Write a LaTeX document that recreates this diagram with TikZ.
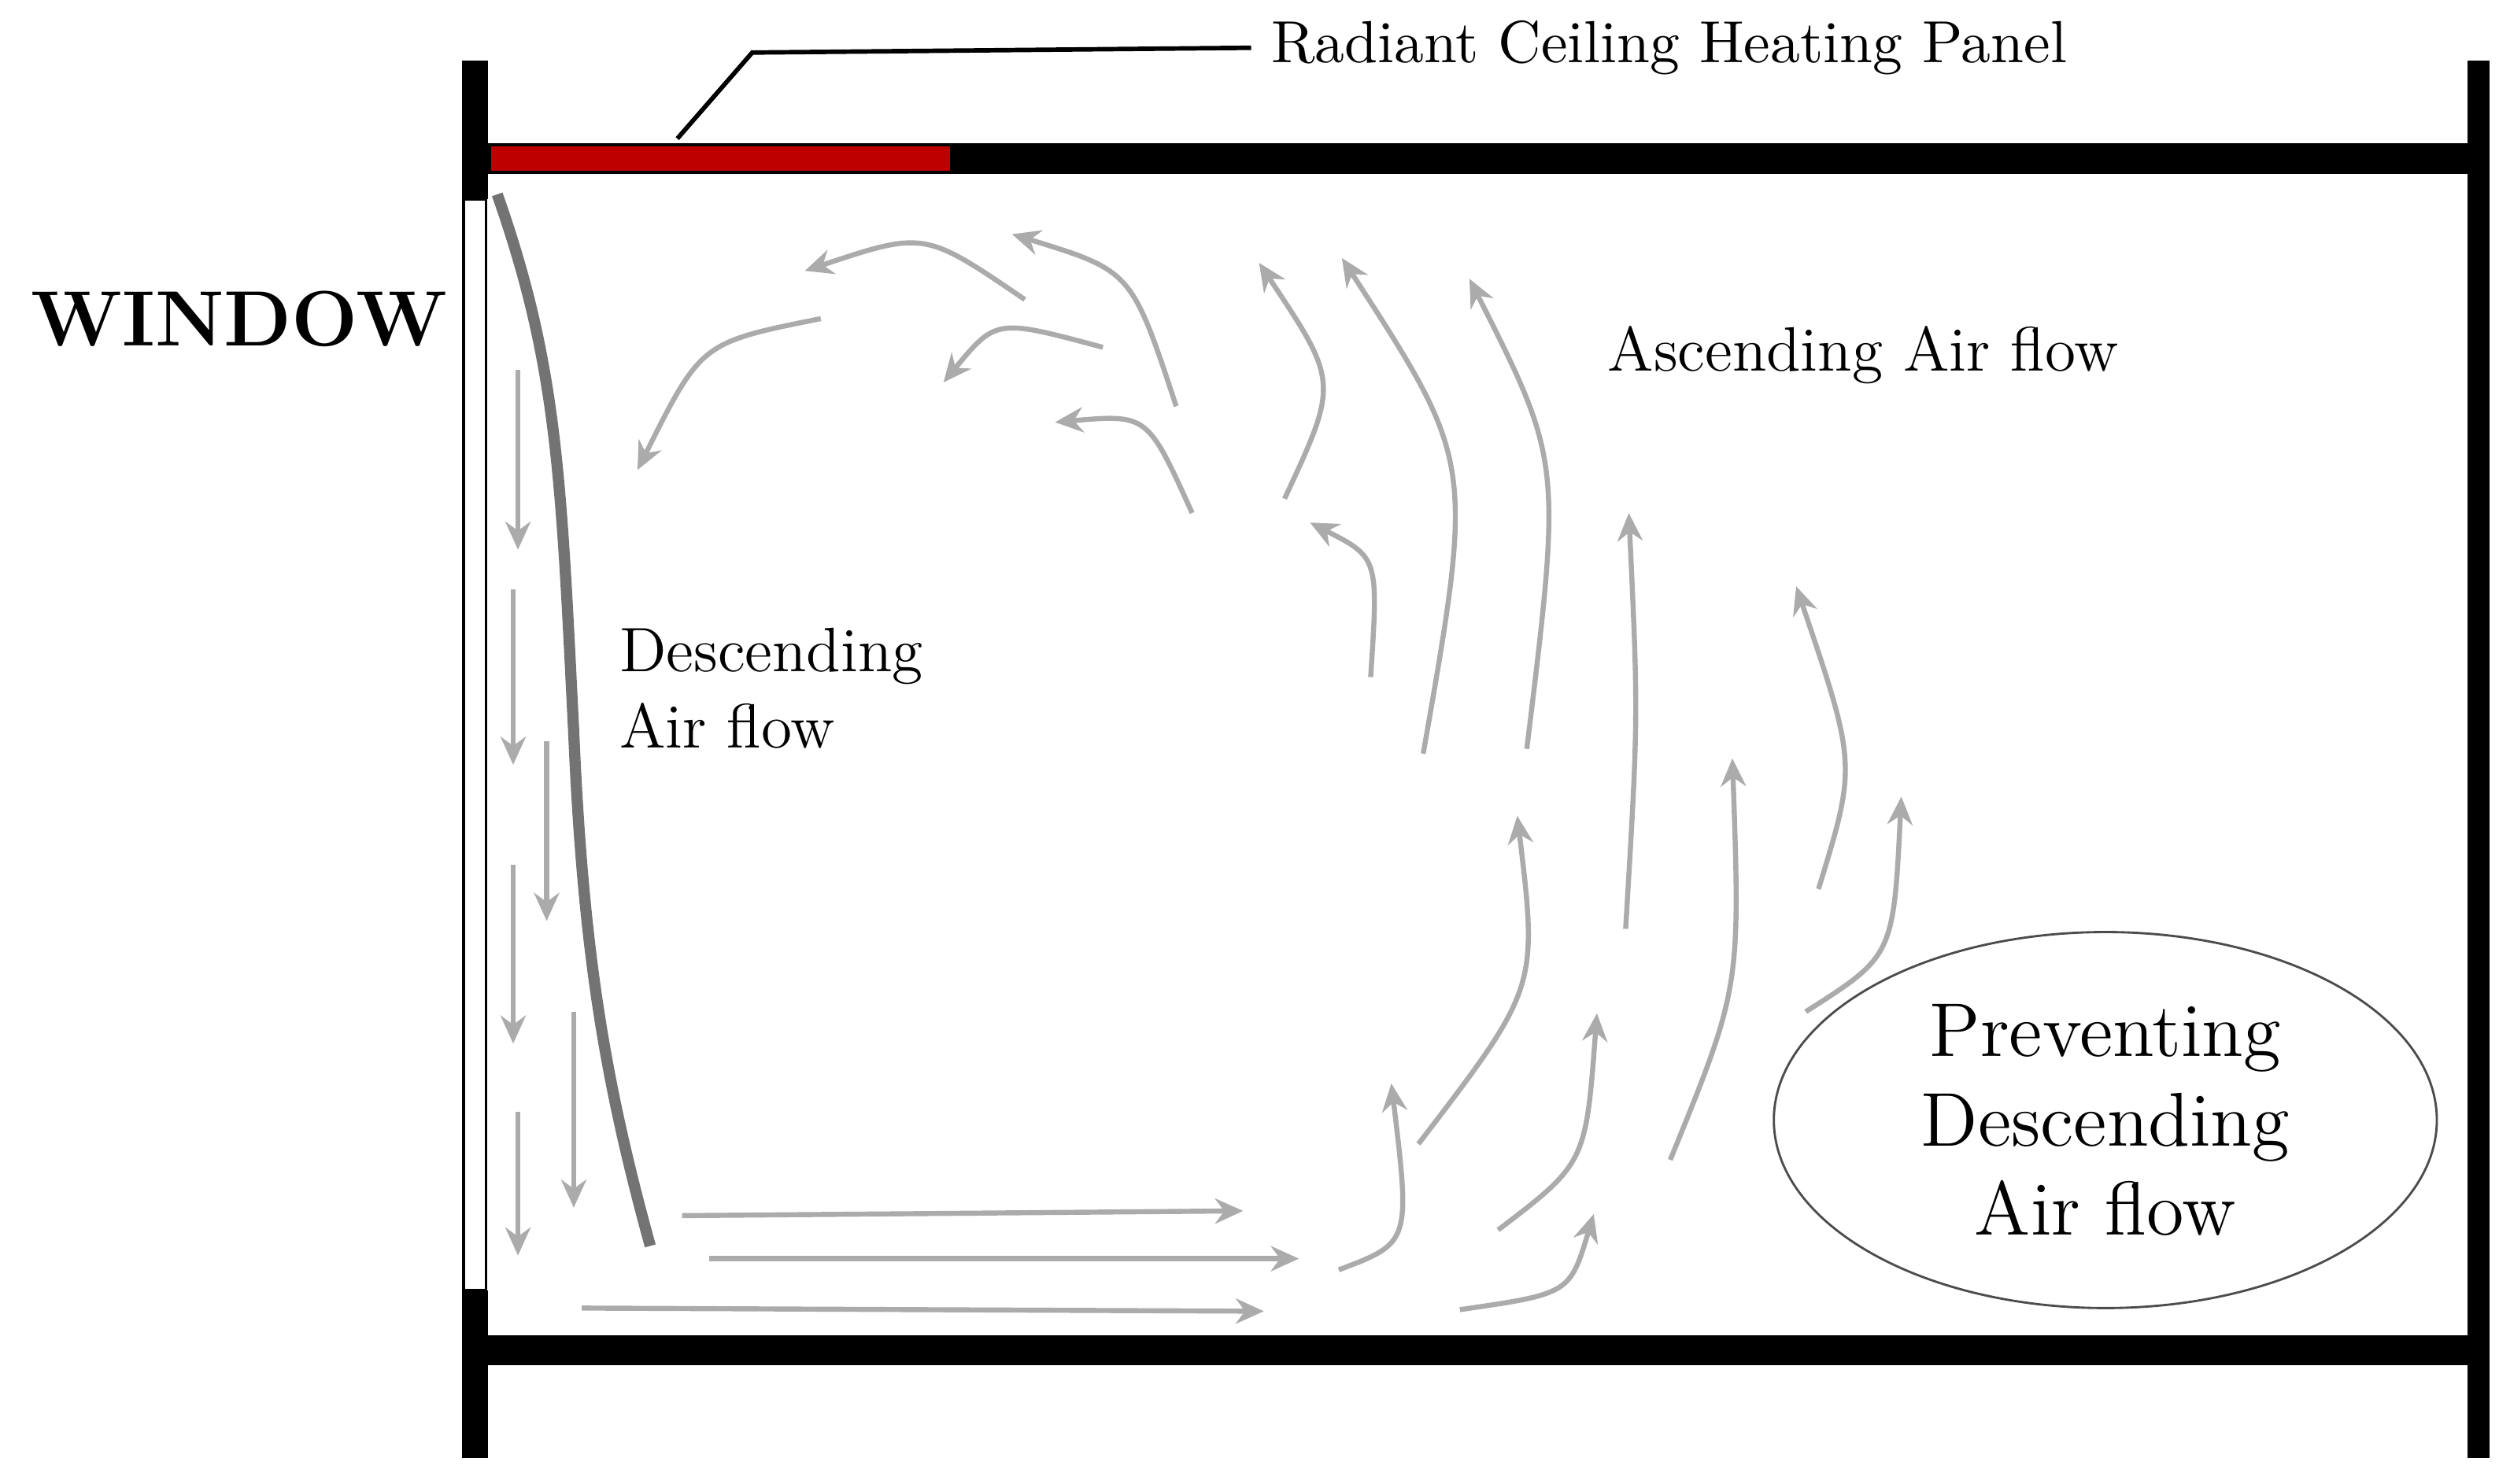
\documentclass[tikz,border=0pt]{standalone}
\usetikzlibrary{arrows.meta}
\begin{document}
\begin{tikzpicture}[x=0.01cm,y=-0.01cm,
  wall/.style={fill=black,draw=none},
  flow/.style={draw=black!33,line width=0.9pt,-{Stealth[length=5pt,width=4.5pt]}},
  lbl/.style={font=\fontsize{11.2pt}{13.5pt}\selectfont,inner sep=0pt}]
\useasboundingbox (0,0) rectangle (1568,931);
% walls
\fill[wall] (290,38) rectangle (306,125);
\fill[wall] (290,810) rectangle (306,915);
\draw[line width=0.5pt,fill=white] (291,125) rectangle (305,810);
\fill[wall] (1548,38) rectangle (1562,915);
\fill[wall] (298,90) rectangle (1555,109);
\fill[wall] (298,838) rectangle (1555,857);
\fill[red!75!black] (308,92) rectangle (596,107);
% label
\coordinate (p1) at (425,87);
\coordinate (p2) at (472,33);
\node[anchor=west,font=\fontsize{10.6pt}{12pt}\selectfont,inner sep=0pt] (rc) at (797,30) {Radiant Ceiling Heating Panel};
\draw[line width=0.8pt] (p1) -- (p2) -- ([xshift=-0.12cm]rc.west);
\node[font=\bfseries\fontsize{14pt}{17pt}\selectfont,inner sep=0pt] (win) at (150,200) {WINDOW};
% descending dark curve
\draw[black!55,line width=2pt] (312,122) .. controls (350,230) and (352,300) .. (360,460) .. controls (366,600) and (380,680) .. (408,782);
% small descending arrows
\foreach \x/\a/\b in {325/232/345, 322/370/480, 343/465/578, 322/543/655, 360/635/758, 325/698/788}
  \draw[flow] (\x,\a) -- (\x,\b);
% horizontal
\draw[flow] (428,763) -- (780,760);
\draw[flow] (445,790) -- (815,790);
\draw[flow] (365,821) -- (793,823);
% texts
\node[lbl,anchor=west,align=left] (desc) at (388,432) {Descending\\Air flow};
\node[lbl,anchor=west] (asc) at (1008,223) {Ascending Air flow};
\draw[line width=0.4pt,black!70] (1321,703) ellipse [x radius=208, y radius=118];
\node[font=\fontsize{13.6pt}{16pt}\selectfont,align=center,inner sep=0pt] (prev) at (1321,703) {Preventing\\Descending\\Air flow};
% curved arrows
\draw[flow] (515,200) .. controls (440,215) .. (400,295);
\draw[flow] (643,188) .. controls (580,145) .. (505,170);
\draw[flow] (738,255) .. controls (710,170) .. (635,147);
\draw[flow] (692,218) .. controls (625,200) .. (592,240);
\draw[flow] (748,322) .. controls (720,260) .. (662,265);
\draw[flow] (806,313) .. controls (840,240) .. (790,165);
\draw[flow] (860,425) .. controls (865,350) .. (822,328);
\draw[flow] (893,473) .. controls (925,290) .. (842,162);
\draw[flow] (958,470) .. controls (980,290) .. (922,175);
\draw[flow] (1020,583) .. controls (1028,450) .. (1022,322);
\draw[flow] (890,718) .. controls (965,620) .. (952,512);
\draw[flow] (840,797) .. controls (885,780) .. (873,680);
\draw[flow] (940,772) .. controls (995,730) .. (1002,636);
\draw[flow] (916,822) .. controls (985,812) .. (1000,762);
\draw[flow] (1048,728) .. controls (1092,620) .. (1087,476);
\draw[flow] (1141,558) .. controls (1165,480) .. (1127,368);
\draw[flow] (1133,635) .. controls (1188,600) .. (1193,500);
\end{tikzpicture}
\end{document}
